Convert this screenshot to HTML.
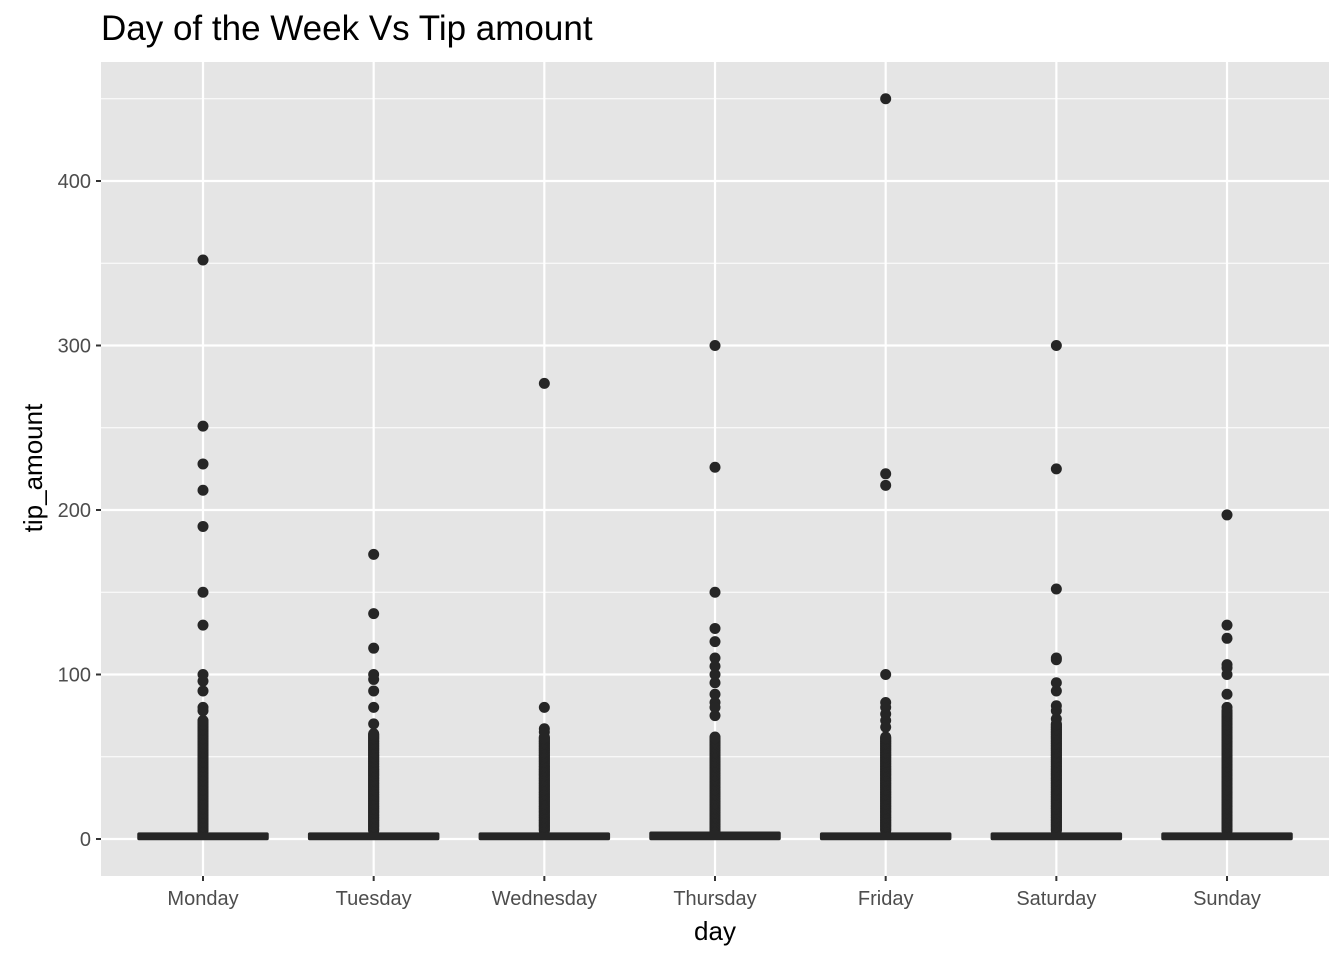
<!DOCTYPE html>
<html><head><meta charset="utf-8"><style>
body{margin:0;background:#fff;font-family:"Liberation Sans",Arial,sans-serif}
</style></head><body>
<svg id="chart" width="1344" height="960" xmlns="http://www.w3.org/2000/svg">
<rect x="101" y="62" width="1228" height="814" fill="#e5e5e5"/>
<text x="101" y="40" font-size="35" fill="#000">Day of the Week Vs Tip amount</text>
<g id="grid"></g><g id="marks"></g><g id="axes"></g>
<text x="715" y="940" font-size="26" text-anchor="middle" fill="#000">day</text>
<text transform="translate(42,468) rotate(-90)" font-size="26" text-anchor="middle" fill="#000">tip_amount</text>
</svg>
<script>
const days=["Monday","Tuesday","Wednesday","Thursday","Friday","Saturday","Sunday"];
const q1=[1,1,1,1,1,1,1];
const medians=[2,2,2,2,2,2,2];
const q3=[3,3,3,3.5,3,3,3];
const denseMax=[72,64,62,62,62,70,78];
const outMon=[352,251,228,212,190,150,130,100,96,90,80,78];
const outTue=[173,137,116,100,97,90,80,70];
const outWed=[277,80,67,65];
const outThu=[300,226,150,128,120,110,105,100,95,88,83,80,75];
const outFri=[450,222,215,100,83,80,76,72,68];
const outSat=[300,225,152,110,109,95,90,81,78,73];
const outSun=[197,130,122,106,104,100,88,80];
const outliers=[outMon,outTue,outWed,outThu,outFri,outSat,outSun];
const yTicks=[0,100,200,300,400];
const yMinor=[50,150,250,350,450];
const NS="http://www.w3.org/2000/svg";
const L=101,R=1329,T=62,B=876;
const y=v=>839-v*1.645;
const x=i=>203+i*170.67;
function mk(t,a,p){const e=document.createElementNS(NS,t);for(const k in a)e.setAttribute(k,a[k]);p.appendChild(e);return e;}
const grid=document.getElementById('grid'),marks=document.getElementById('marks'),axes=document.getElementById('axes');
yMinor.forEach(v=>{const l=mk('line',{x1:L,x2:R,y1:y(v),y2:y(v),stroke:'#fff','stroke-width':1},grid);

});
yTicks.forEach(v=>{const l=mk('line',{x1:L,x2:R,y1:y(v),y2:y(v),stroke:'#fff','stroke-width':2.2},grid);


const t=mk('line',{x1:96,x2:101,y1:y(v),y2:y(v),stroke:'#333','stroke-width':2},axes);


const tx=mk('text',{x:91,y:y(v)+7,'font-size':20,'text-anchor':'end',fill:'#4d4d4d'},axes);tx.textContent=v;

});
days.forEach((d,i)=>{const cx=x(i);
const g=mk('line',{x1:cx,x2:cx,y1:T,y2:B,stroke:'#fff','stroke-width':2.2},grid);


const t=mk('line',{x1:cx,x2:cx,y1:B,y2:B+5,stroke:'#333','stroke-width':2},axes);


const tx=mk('text',{x:cx,y:905,'font-size':20,'text-anchor':'middle',fill:'#4d4d4d'},axes);tx.textContent=d;


const grp=mk('g',{},marks);


for(let v=5;v<=denseMax[i];v+=0.5){const c=mk('circle',{cx:cx,cy:y(v),r:5.5,fill:'#262626'},grp);

}
outliers[i].forEach(v=>{const c=mk('circle',{cx:cx,cy:y(v),r:5.5,fill:'#262626'},grp);

});
const top=Math.min(y(q3[i]),834.5),bot=Math.max(y(q1[i]),838.5);
const b=mk('rect',{x:cx-64,y:top,width:128,height:bot-top,fill:'#262626',stroke:'#262626','stroke-width':3.5,'stroke-linejoin':'round'},grp);


const m=mk('line',{x1:cx-64,x2:cx+64,y1:y(medians[i]),y2:y(medians[i]),stroke:'#262626','stroke-width':3},grp);


});
</script>
</body></html>
